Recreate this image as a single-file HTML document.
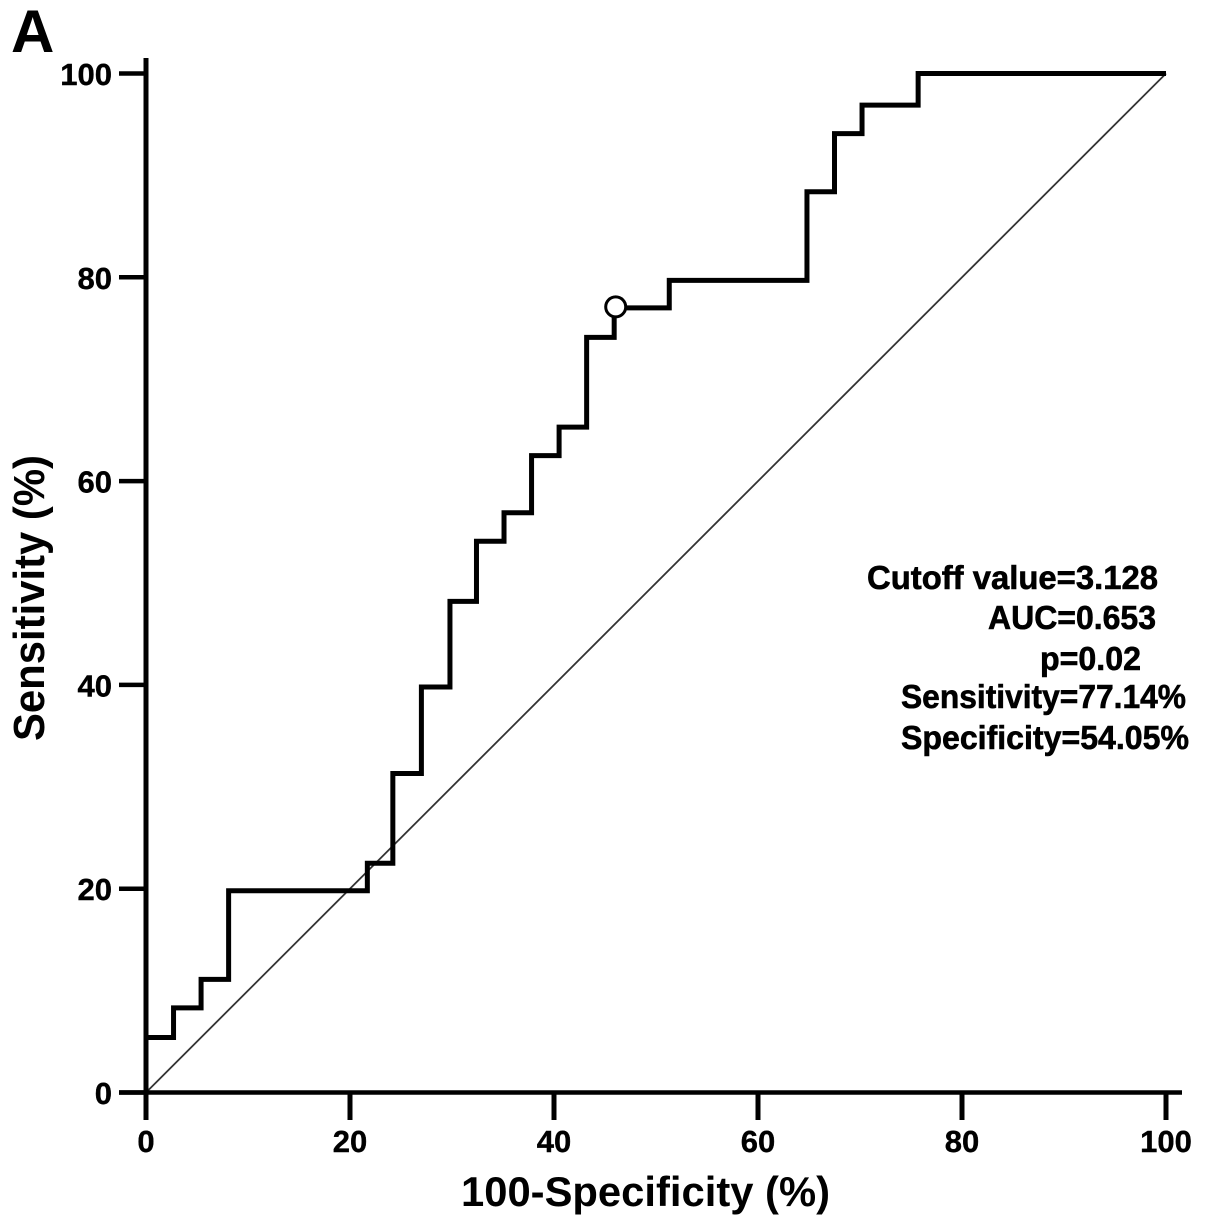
<!DOCTYPE html>
<html>
<head>
<meta charset="utf-8">
<title>ROC curve</title>
<style>
html,body{margin:0;padding:0;background:#fff;width:1205px;height:1227px;overflow:hidden}
svg{display:block}
text{font-family:"Liberation Sans",Arial,sans-serif;font-weight:bold;fill:#000}
</style>
</head>
<body>
<svg id="chart" xmlns="http://www.w3.org/2000/svg" width="1205" height="1227" viewBox="0 0 1205 1227">
  <text x="11" y="52" font-size="60">A</text>
  <g id="layer-ref"></g>
  <g id="layer-axes"></g>
  <g id="layer-curve"></g>
  <text x="461" y="1206" font-size="42" textLength="369" lengthAdjust="spacingAndGlyphs">100-Specificity (%)</text>
  <text transform="translate(44,741) rotate(-90)" font-size="44" textLength="286" lengthAdjust="spacingAndGlyphs">Sensitivity (%)</text>
  <g font-size="33" stroke="#000" stroke-width="0.6">
    <text x="867" y="589" textLength="291" lengthAdjust="spacingAndGlyphs">Cutoff value=3.128</text>
    <text x="988" y="629" textLength="168" lengthAdjust="spacingAndGlyphs">AUC=0.653</text>
    <text x="1040" y="670" textLength="101" lengthAdjust="spacingAndGlyphs">p=0.02</text>
    <text x="901" y="708" textLength="285" lengthAdjust="spacingAndGlyphs">Sensitivity=77.14%</text>
    <text x="901" y="749" textLength="288" lengthAdjust="spacingAndGlyphs">Specificity=54.05%</text>
  </g>
</svg>
<script>
const xTicks = [0, 20, 40, 60, 80, 100];
const yTicks = [0, 20, 40, 60, 80, 100];
const rocFpr = [0, 2.7, 5.4, 8.1, 21.7, 24.2, 27.0, 29.8, 32.4, 35.1, 37.8, 40.5, 43.2, 45.9, 51.3, 64.8, 67.5, 70.2, 75.7, 100];
const rocTpr = [5.4, 8.3, 11.1, 19.8, 22.5, 31.3, 39.8, 48.2, 54.1, 56.9, 62.5, 65.3, 74.1, 77.0, 79.7, 88.4, 94.1, 96.9, 100, 100];
const cutoffPoint = [46.05, 77.1];
const referenceLine = [0, 100];

const NS = 'http://www.w3.org/2000/svg';
function sx(v) { return 146 + v * 10.2; }
function sy(v) { return 1092.5 - v * 10.19; }
function make(tag, attrs, parent) {
  const el = document.createElementNS(NS, tag);
  for (const k in attrs) el.setAttribute(k, attrs[k]);
  parent.appendChild(el);
  return el;
}
const axes = document.getElementById('layer-axes');
const refLayer = document.getElementById('layer-ref');
const curveLayer = document.getElementById('layer-curve');

const diag = make('line', {x1: sx(referenceLine[0]), y1: sy(referenceLine[0]), x2: sx(referenceLine[1]), y2: sy(referenceLine[1]), stroke: '#333', 'stroke-width': 1.8}, refLayer);



const yAxis = make('line', {x1: 146, y1: 58, x2: 146, y2: 1120, stroke: '#000', 'stroke-width': 5}, axes);


const xAxis = make('line', {x1: 119, y1: sy(0), x2: 1182, y2: sy(0), stroke: '#000', 'stroke-width': 4.5}, axes);



xTicks.forEach(function (t) {
  const tick = make('line', {x1: sx(t), y1: sy(0), x2: sx(t), y2: 1120, stroke: '#000', 'stroke-width': 5}, axes);
  
  
  const label = make('text', {x: sx(t), y: 1152, 'font-size': 31, 'text-anchor': 'middle', stroke: '#000', 'stroke-width': 0.4}, axes);
  
  
  label.textContent = t;
});
yTicks.forEach(function (t) {
  const tick = make('line', {x1: 119, y1: sy(t), x2: 146, y2: sy(t), stroke: '#000', 'stroke-width': 4.5}, axes);
  
  
  const label = make('text', {x: 112, y: sy(t) + 11.5, 'font-size': 31, 'text-anchor': 'end', stroke: '#000', 'stroke-width': 0.4}, axes);
  
  
  label.textContent = t;
});

let d = 'M' + sx(0) + ' ' + sy(0);
rocFpr.forEach(function (x, i) {
  d += ' L' + sx(x) + ' ' + sy(i === 0 ? 0 : rocTpr[i - 1]);
  d += ' L' + sx(x) + ' ' + sy(rocTpr[i]);
});
const curve = make('path', {d: d, fill: 'none', stroke: '#000', 'stroke-width': 5, 'stroke-linejoin': 'miter'}, curveLayer);



const marker = make('circle', {cx: sx(cutoffPoint[0]), cy: sy(cutoffPoint[1]), r: 10, fill: '#fff', stroke: '#000', 'stroke-width': 3}, curveLayer);


</script>
</body>
</html>
